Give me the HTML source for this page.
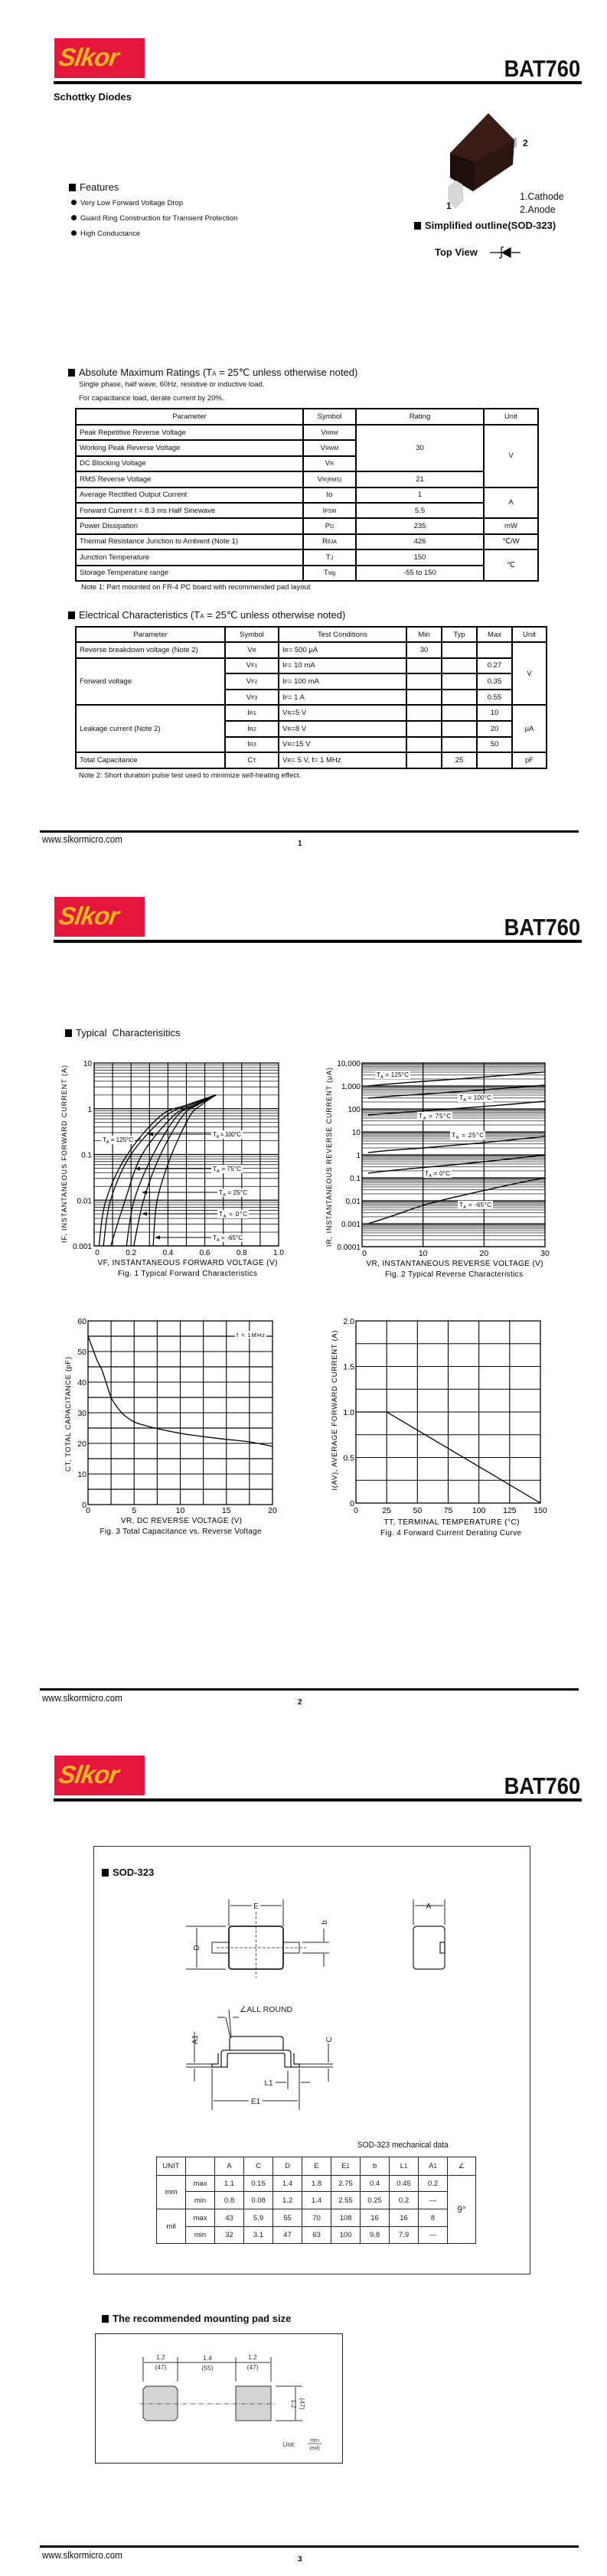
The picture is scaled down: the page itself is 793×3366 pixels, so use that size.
<!DOCTYPE html>
<html><head><meta charset="utf-8"><title>BAT760 Schottky Diodes</title>
<style>
html,body{margin:0;padding:0;background:#fff;}
body{width:793px;height:3366px;position:relative;overflow:hidden;font-family:"Liberation Sans",Arial,sans-serif;color:#111;}
.a{position:absolute;white-space:nowrap;}
.logo{position:absolute;left:71px;width:118px;height:52px;background:#e3173e;}
.logo span{position:absolute;left:6px;top:6px;font:italic bold 33px "Liberation Sans",sans-serif;color:#f2b51f;letter-spacing:-1px;transform:skewX(-8deg);}
.title{position:absolute;right:35px;font:bold 31px "Liberation Sans",sans-serif;transform:scaleX(.88);transform-origin:right center;}
.hline{position:absolute;left:70px;width:690px;height:4px;background:#000;}
.fline{position:absolute;left:52px;width:704px;height:3px;background:#000;}
.www{position:absolute;left:55px;font-size:12.5px;transform:scaleX(.92);transform-origin:left;}
.pn{position:absolute;left:389px;font-weight:bold;font-size:10px;}
.sq{display:inline-block;width:9px;height:10px;background:#000;margin-right:5px;vertical-align:-1px;}
.sec{font-size:13px;}
.bul{font-size:9.5px;}
.bul i{display:inline-block;width:7px;height:7px;border-radius:50%;background:#000;margin-right:5px;vertical-align:0;}
table.t{position:absolute;border-collapse:collapse;font-size:9.5px;table-layout:fixed;}
table.t td{border:2px solid #000;padding:0 4px;text-align:center;white-space:nowrap;overflow:hidden;}
table.t td.l{text-align:left;}
table.t small{font-size:7px;}
table.m{position:absolute;border-collapse:collapse;font-size:9.5px;table-layout:fixed;}
table.m td{border:1px solid #222;text-align:center;padding:0;color:#222;}
svg{position:absolute;left:0;top:0;}
</style></head>
<body>

<!-- ===== PAGE 1 ===== -->
<div class="logo" style="top:50px"><span>Slkor</span></div>
<div class="title" style="top:72px">BAT760</div>
<div class="hline" style="top:106px"></div>
<div class="a" style="left:70px;top:119px;font-weight:bold;font-size:13px">Schottky Diodes</div>

<div class="a sec" style="left:90px;top:237px"><span class="sq"></span>Features</div>
<div class="a bul" style="left:93px;top:260px"><i></i>Very Low Forward Voltage Drop</div>
<div class="a bul" style="left:93px;top:280px"><i></i>Guard Ring Construction for Transient Protection</div>
<div class="a bul" style="left:93px;top:300px"><i></i>High Conductance</div>

<div class="a" style="left:679px;top:250px;font-size:12.5px">1.Cathode</div>
<div class="a" style="left:679px;top:267px;font-size:12.5px">2.Anode</div>
<div class="a" style="left:541px;top:287px;font-weight:bold;font-size:13px"><span class="sq"></span>Simplified outline(SOD-323)</div>
<div class="a" style="left:568px;top:322px;font-weight:bold;font-size:13px">Top View</div>
<div class="a" style="left:583px;top:262px;font-weight:bold;font-size:12px">1</div>
<div class="a" style="left:683px;top:180px;font-weight:bold;font-size:12px">2</div>

<div class="a sec" style="left:89px;top:479px"><span class="sq"></span>Absolute Maximum Ratings (T<small style="font-size:8px">A</small> = 25℃ unless otherwise noted)</div>
<div class="a" style="left:103px;top:497px;font-size:9.5px">Single phase, half wave, 60Hz, resistive or inductive load.</div>
<div class="a" style="left:103px;top:515px;font-size:9.5px">For capacitance load, derate current by 20%.</div>

<table class="t" style="left:98px;top:533px;width:604px">
<colgroup><col style="width:297px"><col style="width:69px"><col style="width:167px"><col style="width:71px"></colgroup>
<tr style="height:21px"><td>Parameter</td><td>Symbol</td><td>Rating</td><td>Unit</td></tr>
<tr style="height:20.4px"><td class="l">Peak Repetitive Reverse Voltage</td><td>V<small>RRM</small></td><td rowspan="3">30</td><td rowspan="4">V</td></tr>
<tr style="height:20.4px"><td class="l">Working Peak Reverse Voltage</td><td>V<small>RWM</small></td></tr>
<tr style="height:20.4px"><td class="l">DC Blocking Voltage</td><td>V<small>R</small></td></tr>
<tr style="height:20.4px"><td class="l">RMS Reverse Voltage</td><td>V<small>R(RMS)</small></td><td>21</td></tr>
<tr style="height:20.4px"><td class="l">Average Rectified Output Current</td><td>Io</td><td>1</td><td rowspan="2">A</td></tr>
<tr style="height:20.4px"><td class="l">Forward Current t = 8.3 ms Half Sinewave</td><td>I<small>FSM</small></td><td>5.5</td></tr>
<tr style="height:20.4px"><td class="l">Power Dissipation</td><td>P<small>D</small></td><td>235</td><td>mW</td></tr>
<tr style="height:20.4px"><td class="l">Thermal Resistance Junction to Ambient (Note 1)</td><td>R<small>θJA</small></td><td>426</td><td>℃/W</td></tr>
<tr style="height:20.4px"><td class="l">Junction Temperature</td><td>T<small>J</small></td><td>150</td><td rowspan="2">℃</td></tr>
<tr style="height:20.4px"><td class="l">Storage Temperature range</td><td>T<small>stg</small></td><td>-55 to 150</td></tr>
</table>
<div class="a" style="left:106px;top:762px;font-size:9.5px">Note 1: Part mounted on FR-4 PC board with recommended pad layout</div>

<div class="a sec" style="left:89px;top:796px"><span class="sq"></span>Electrical Characteristics (T<small style="font-size:8px">A</small> = 25℃ unless otherwise noted)</div>
<table class="t" style="left:98px;top:818px;width:615px">
<colgroup><col style="width:195px"><col style="width:70px"><col style="width:167px"><col style="width:46px"><col style="width:46px"><col style="width:46px"><col style="width:45px"></colgroup>
<tr style="height:20px"><td>Parameter</td><td>Symbol</td><td>Test Conditions</td><td>Min</td><td>Typ</td><td>Max</td><td>Unit</td></tr>
<tr style="height:20.6px"><td class="l">Reverse breakdown voltage (Note 2)</td><td>V<small>R</small></td><td class="l">I<small>R</small>= 500 μA</td><td>30</td><td></td><td></td><td rowspan="4">V</td></tr>
<tr style="height:20.6px"><td class="l" rowspan="3">Forward voltage</td><td>V<small>F1</small></td><td class="l">I<small>F</small>= 10 mA</td><td></td><td></td><td>0.27</td></tr>
<tr style="height:20.6px"><td>V<small>F2</small></td><td class="l">I<small>F</small>= 100 mA</td><td></td><td></td><td>0.35</td></tr>
<tr style="height:20.6px"><td>V<small>F3</small></td><td class="l">I<small>F</small>= 1 A</td><td></td><td></td><td>0.55</td></tr>
<tr style="height:20.6px"><td class="l" rowspan="3">Leakage current (Note 2)</td><td>I<small>R1</small></td><td class="l">V<small>R</small>=5 V</td><td></td><td></td><td>10</td><td rowspan="3">μA</td></tr>
<tr style="height:20.6px"><td>I<small>R2</small></td><td class="l">V<small>R</small>=8 V</td><td></td><td></td><td>20</td></tr>
<tr style="height:20.6px"><td>I<small>R3</small></td><td class="l">V<small>R</small>=15 V</td><td></td><td></td><td>50</td></tr>
<tr style="height:20.6px"><td class="l">Total Capacitance</td><td>C<small>T</small></td><td class="l">V<small>R</small>= 5 V, f= 1 MHz</td><td></td><td>25</td><td></td><td>pF</td></tr>
</table>
<div class="a" style="left:103px;top:1008px;font-size:9.5px">Note 2: Short duration pulse test used to minimize self-heating effect.</div>

<div class="fline" style="top:1085px"></div>
<div class="www" style="top:1090px">www.slkormicro.com</div>
<div class="pn" style="top:1097px">1</div>

<!-- ===== PAGE 2 ===== -->
<div class="logo" style="top:1172px"><span>Slkor</span></div>
<div class="title" style="top:1194px">BAT760</div>
<div class="hline" style="top:1228px"></div>
<div class="a sec" style="left:85px;top:1342px"><span class="sq"></span>Typical &nbsp;Characterisitics</div>
<div class="fline" style="top:2206px"></div>
<div class="www" style="top:2212px">www.slkormicro.com</div>
<div class="pn" style="top:2219px">2</div>

<!-- ===== PAGE 3 ===== -->
<div class="logo" style="top:2294px"><span>Slkor</span></div>
<div class="title" style="top:2316px">BAT760</div>
<div class="hline" style="top:2350px"></div>
<div class="a" style="left:122px;top:2412px;width:569px;height:558px;border:1px solid #333"></div>
<div class="a" style="left:133px;top:2439px;font-weight:bold;font-size:13px"><span class="sq"></span>SOD-323</div>
<div class="a" style="left:467px;top:2797px;font-size:11px;transform:scaleX(.92);transform-origin:left">SOD-323 mechanical data</div>
<table class="m" style="left:204px;top:2818px;width:417px">
<colgroup><col style="width:38px"><col style="width:38px"><col style="width:38px"><col style="width:38px"><col style="width:38px"><col style="width:38px"><col style="width:38px"><col style="width:38px"><col style="width:38px"><col style="width:38px"><col style="width:37px"></colgroup>
<tr style="height:24px"><td>UNIT</td><td></td><td>A</td><td>C</td><td>D</td><td>E</td><td>E<small>1</small></td><td>b</td><td>L<small>1</small></td><td>A<small>1</small></td><td>∠</td></tr>
<tr style="height:21px"><td rowspan="2">mm</td><td>max</td><td>1.1</td><td>0.15</td><td>1.4</td><td>1.8</td><td>2.75</td><td>0.4</td><td>0.45</td><td>0.2</td><td rowspan="4" style="font-size:12px">9°</td></tr>
<tr style="height:23px"><td>min</td><td>0.8</td><td>0.08</td><td>1.2</td><td>1.4</td><td>2.55</td><td>0.25</td><td>0.2</td><td>—</td></tr>
<tr style="height:23px"><td rowspan="2">mil</td><td>max</td><td>43</td><td>5.9</td><td>55</td><td>70</td><td>108</td><td>16</td><td>16</td><td>8</td></tr>
<tr style="height:22px"><td>min</td><td>32</td><td>3.1</td><td>47</td><td>63</td><td>100</td><td>9.8</td><td>7.9</td><td>—</td></tr>
</table>
<div class="a" style="left:133px;top:3022px;font-weight:bold;font-size:13px"><span class="sq"></span>The recommended mounting pad size</div>
<div class="a" style="left:124px;top:3049px;width:322px;height:168px;border:1px solid #222"></div>
<div class="fline" style="top:3326px"></div>
<div class="www" style="top:3332px">www.slkormicro.com</div>
<div class="pn" style="top:3339px">3</div>

<svg id="art" width="793" height="3366" viewBox="0 0 793 3366" font-family="Liberation Sans, Arial, sans-serif">
 <!-- package image page 1 -->
 <g>
  <polygon points="670,181 675,179 675,192 670,194" fill="#bbb"/>
  <polygon points="588,200 638,148 672,183 670,215 618,250 588,232" fill="#2b1614"/>
  <polygon points="588,200 638,148 672,183 620,212" fill="#3a1c18"/>
  <polygon points="588,200 620,212 618,250 588,232" fill="#1e0e0c"/>
  <polygon points="586,244 596,236 604,241 605,262 595,272 586,262" fill="#d8d8d8" stroke="#aaa" stroke-width=".5"/>
 </g>
 <g stroke="#000" stroke-width="1.2" fill="none">
  <path d="M640,330 H655 M655,323 V337 M655,323 h3 M655,337 h-3 M668,330 H680"/>
  <polygon points="656,330 667,324 667,336" fill="#000"/>
 </g>

 <!-- page 2 chart groups -->
 <g id="fig1"></g>
 <g id="fig2"></g>
 <g id="fig3"></g>
 <g id="fig4"></g>

 <!-- page 3 package drawing -->
 <g stroke="#222" fill="none" stroke-width="1">
  <rect x="277" y="2538" width="22" height="14"/><rect x="370" y="2538" width="21" height="14"/>
  <rect x="299" y="2517" width="71" height="56" rx="4" stroke-width="1.8"/>
  <path d="M334.5,2498 V2584 M283,2545 H400" stroke-dasharray="4,2" stroke-width=".7"/>
  <path d="M299,2482 V2517 M370,2482 V2517 M301,2490 H368 M243,2517 H295 M243,2573 H295 M257,2519 V2571 M395,2538 H430 M395,2552 H430 M423,2520 V2537 M423,2553 V2570"/>
 </g>
 <g stroke="#222" fill="none" stroke-width="1.2">
  <path d="M545,2517 H576 Q581,2517 581,2522 V2568 Q581,2573 576,2573 H545 Q540,2573 540,2568 V2522 Q540,2517 545,2517 Z"/>
  <rect x="575" y="2538" width="6" height="14"/>
  <path d="M540,2482 V2515 M581,2482 V2515 M542,2490 H579" stroke-width="1"/>
 </g>
 <g stroke="#222" fill="none" stroke-width="1.3">
  <path d="M300,2679 V2665 Q300,2661 304,2661 H366 Q370,2661 370,2665 V2679"/>
  <path d="M289,2701 V2683 Q289,2679 293,2679 H376 Q380,2679 380,2683 V2701"/>
  <path d="M277,2701 H297 V2685 Q297,2683 299,2683 H370 Q372,2683 372,2685 V2701 H391 V2697 H384 V2683 M277,2701 V2697 H285 V2683"/>
  <path d="M243,2697 H277 M243,2701 H277 M254,2655 V2695 M254,2703 V2720 M391,2697 H435 M391,2701 H435 M429,2670 V2695 M429,2703 V2720 M376,2706 V2730 M391,2706 V2730 M360,2721 H374 M393,2721 H405 M277,2703 V2757 M391,2703 V2757 M279,2745 H325 M343,2745 H389 M295,2636 L301,2663 M299,2626 L302,2662 M284,2636 H294 M304,2636 H312" stroke-width="1"/>
 </g>
 <g font-size="10" fill="#222">
  <text x="334.5" y="2494" text-anchor="middle" fill="#fff" stroke="#fff" stroke-width="6">E</text>
  <text x="334.5" y="2494" text-anchor="middle">E</text>
  <text x="560" y="2494" text-anchor="middle">A</text>
  <text x="260" y="2545" transform="rotate(-90 260 2545)" text-anchor="middle">D</text>
  <text x="427" y="2512" transform="rotate(-90 427 2512)" text-anchor="middle">b</text>
  <text x="313" y="2629" font-size="10.5">∠ALL ROUND</text>
  <text x="258" y="2665" transform="rotate(-90 258 2665)" text-anchor="middle">A1</text>
  <text x="433" y="2665" transform="rotate(-90 433 2665)" text-anchor="middle">C</text>
  <text x="351" y="2725" text-anchor="middle">L1</text>
  <text x="334" y="2749" text-anchor="middle">E1</text>
 </g>
 <!-- pad drawing -->
 <g stroke="#333" stroke-width="1" fill="none">
  <polygon points="191,3118 228,3118 232,3122 232,3159 228,3163 191,3163 187,3159 187,3122" fill="#d4d4d4"/>
  <rect x="308" y="3118" width="46" height="45" fill="#d4d4d4"/>
  <path d="M183,3141 H360" stroke-dasharray="6,2,1,2" stroke-width=".8"/>
  <path d="M187,3080 V3112 M232,3080 V3112 M308,3080 V3112 M354,3080 V3112 M188,3087 H353 M360,3118 H395 M360,3163 H395 M386,3119 V3162"/>
 </g>
 <g font-size="8.5" fill="#333" text-anchor="middle">
  <text x="210" y="3083">1.2</text><text x="210" y="3096">(47)</text>
  <text x="271" y="3084">1.4</text><text x="271" y="3097">(55)</text>
  <text x="330" y="3083">1.2</text><text x="330" y="3096">(47)</text>
  <text x="381" y="3141" transform="rotate(90 381 3141)">1.2</text>
  <text x="392" y="3141" transform="rotate(90 392 3141)">(47)</text>
  <text x="386" y="3197" text-anchor="end" font-size="8">Unit:</text>
  <text x="411" y="3191" font-size="7">mm</text>
  <path d="M402,3193 H420" stroke="#333" stroke-width=".7"/>
  <text x="411" y="3201" font-size="7">(mil)</text>
 </g>
</svg>

<script>
// ---------- Fig 1 data: forward characteristics ----------
const fig1Temps = ['125', '100', '75', '25', '0', '-65'];
const fig1Vf125 = [0.026, 0.064, 0.18, 0.36, 0.50, 0.66];
const fig1Vf100 = [0.05, 0.089, 0.20, 0.39, 0.52, 0.66];
const fig1Vf75 = [0.09, 0.168, 0.26, 0.43, 0.54, 0.66];
const fig1Vf25 = [0.175, 0.217, 0.32, 0.45, 0.55, 0.66];
const fig1Vf0 = [0.215, 0.268, 0.36, 0.48, 0.56, 0.66];
const fig1VfM65 = [0.32, 0.342, 0.42, 0.52, 0.58, 0.66];
const fig1If = [0.001, 0.01, 0.1, 0.7, 1.2, 2.0];
const fig1XTicks = [0, 0.2, 0.4, 0.6, 0.8, 1.0];
const fig1XTickLabels = ['0', '0.2', '0.4', '0.6', '0.8', '1.0'];
const fig1YTicks = [0.001, 0.01, 0.1, 1, 10];
const fig1YTickLabels = ['0.001', '0.01', '0.1', '1', '10'];

// ---------- Fig 2 data: reverse characteristics ----------
const fig2Vr = [1, 5, 10, 15, 20, 25, 30];
const fig2Ir125 = [1000, 1250, 1580, 1950, 2450, 3150, 4070];
const fig2Ir100 = [295, 360, 440, 540, 680, 860, 1080];
const fig2Ir75 = [55, 66, 82, 102, 128, 165, 215];
const fig2Ir25 = [1.26, 1.6, 2.0, 2.6, 3.4, 4.6, 6.3];
const fig2Ir0 = [0.16, 0.21, 0.28, 0.37, 0.5, 0.7, 1.0];
const fig2IrM65 = [0.001, 0.0022, 0.0063, 0.014, 0.028, 0.055, 0.1];
const fig2XTicks = [0, 10, 20, 30];
const fig2YTicks = [10000, 1000, 100, 10, 1, 0.1, 0.01, 0.001, 0.0001];
const fig2YTickLabels = ['10,000', '1,000', '100', '10', '1', '0.1', '0.01', '0.001', '0.0001'];

// ---------- Fig 3 data: capacitance ----------
const fig3Vr = [0, 0.5, 1, 1.5, 2, 2.5, 3, 3.5, 4, 5, 6, 7.5, 10, 12.5, 15, 17.5, 20];
const fig3Ct = [55, 51, 47, 44, 39.5, 35, 32.5, 30.5, 29, 27, 26, 24.8, 23.3, 22.2, 21.3, 20.5, 19];
const fig3XTicks = [0, 5, 10, 15, 20];
const fig3YTicks = [0, 10, 20, 30, 40, 50, 60];

// ---------- Fig 4 data: derating ----------
const fig4Temp = [0, 25, 150];
const fig4Iav = [1.0, 1.0, 0];
const fig4XTicks = [0, 25, 50, 75, 100, 125, 150];
const fig4YTicks = [0, 0.5, 1.0, 1.5, 2.0];
const fig4YTickLabels = ['0', '0.5', '1.0', '1.5', '2.0'];

const NS = 'http://www.w3.org/2000/svg';
function mk(parent, tag, attrs, name, text) {
  const el = document.createElementNS(NS, tag);
  for (const k in attrs) el.setAttribute(k, attrs[k]);
  
  
  if (text !== undefined) el.textContent = text;
  parent.appendChild(el);
  return el;
}
function smooth(pts) {
  if (pts.length < 3) return 'M' + pts.map(p => p[0].toFixed(1) + ',' + p[1].toFixed(1)).join(' L');
  let d = 'M' + pts[0][0].toFixed(1) + ',' + pts[0][1].toFixed(1);
  for (let i = 0; i < pts.length - 1; i++) {
    const p0 = pts[i - 1] || pts[i], p1 = pts[i], p2 = pts[i + 1], p3 = pts[i + 2] || p2;
    const c1x = p1[0] + (p2[0] - p0[0]) / 6, c1y = p1[1] + (p2[1] - p0[1]) / 6;
    const c2x = p2[0] - (p3[0] - p1[0]) / 6, c2y = p2[1] - (p3[1] - p1[1]) / 6;
    d += ' C' + c1x.toFixed(1) + ',' + c1y.toFixed(1) + ' ' + c2x.toFixed(1) + ',' + c2y.toFixed(1) + ' ' + p2[0].toFixed(1) + ',' + p2[1].toFixed(1);
  }
  return d;
}
function tlabel(g, x, y, txt, name, w) {
  mk(g, 'rect', {x: x - 2, y: y - 8, width: w + 4, height: 11, fill: '#fff'}, name + '-bg');
  const t = mk(g, 'text', {x: x, y: y, 'font-size': 8}, name, '');
  const a = document.createElementNS(NS, 'tspan'); a.textContent = 'T'; t.appendChild(a);
  const b = document.createElementNS(NS, 'tspan'); b.setAttribute('font-size', '5.5'); b.setAttribute('dy', '2'); b.textContent = 'A'; t.appendChild(b);
  const c = document.createElementNS(NS, 'tspan'); c.setAttribute('dy', '-2'); c.textContent = ' = ' + txt + '°C'; t.appendChild(c);
  t.setAttribute('textLength', w);
}
function arrow(g, x1, y, x2, name) {
  mk(g, 'line', {x1: x1, y1: y, x2: x2 + 5, y2: y, stroke: '#000', 'stroke-width': 1}, name);
  mk(g, 'polygon', {points: x2 + ',' + y + ' ' + (x2 + 7) + ',' + (y - 2.5) + ' ' + (x2 + 7) + ',' + (y + 2.5), fill: '#000'}, name + '-head');
}

// ===== Fig 1 =====
(function () {
  const g = document.getElementById('fig1');
  const L = 123, R = 364, T = 1389, B = 1628;
  const x = v => L + (R - L) * v / 1.0;
  const y = i => B - (Math.log10(i) + 3) * (B - T) / 4;
  for (let d = -3; d < 1; d++) for (let m = 1; m < 10; m++) {
    const yy = y(m * Math.pow(10, d));
    mk(g, 'line', {x1: L, x2: R, y1: yy, y2: yy, stroke: m === 1 ? '#000' : '#333', 'stroke-width': m === 1 ? 1.2 : 0.9}, 'fig1-hgrid');
  }
  for (let k = 1; k < 10; k++) mk(g, 'line', {x1: x(k / 10), x2: x(k / 10), y1: T, y2: B, stroke: '#000', 'stroke-width': 1.1}, 'fig1-vgrid');
  mk(g, 'rect', {x: L, y: T, width: R - L, height: B - T, fill: 'none', stroke: '#000', 'stroke-width': 1.3}, 'fig1-frame');
  fig1XTicks.forEach((v, i) => mk(g, 'text', {x: x(v) + (i === 0 ? 4 : 0), y: 1640, 'font-size': 10, 'text-anchor': 'middle'}, 'fig1-x-tick', fig1XTickLabels[i]));
  fig1YTicks.forEach((v, i) => mk(g, 'text', {x: L - 3, y: y(v) + 4, 'font-size': 10, 'text-anchor': 'end'}, 'fig1-y-tick', fig1YTickLabels[i]));
  const series = [fig1Vf125, fig1Vf100, fig1Vf75, fig1Vf25, fig1Vf0, fig1VfM65];
  series.forEach((vs, si) => {
    const pts = vs.map((v, k) => [x(v), y(fig1If[k])]);
    mk(g, 'path', {d: smooth(pts), fill: 'none', stroke: '#000', 'stroke-width': 1.3}, 'fig1-curve-' + fig1Temps[si]);
  });
  tlabel(g, 134, 1492, fig1Temps[0], 'fig1-label-125', 40);
  mk(g, 'line', {x1: 176, y1: 1491, x2: 184, y2: 1488, stroke: '#000'}, 'fig1-leader-125');
  const lab = [[1, 278, 1485, 193], [2, 278, 1530, 176], [3, 286, 1561, 185], [4, 286, 1589, 185], [5, 278, 1620, 202]];
  lab.forEach(a => { arrow(g, a[1] - 2, a[2] - 3, a[3], 'fig1-arrow-' + fig1Temps[a[0]]); tlabel(g, a[1], a[2], fig1Temps[a[0]], 'fig1-label-' + fig1Temps[a[0]], a[0] === 5 ? 39 : 37); });
  mk(g, 'text', {x: 87, y: 1508, 'font-size': 9, 'text-anchor': 'middle', transform: 'rotate(-90 87 1508)', textLength: 232}, 'fig1-y-axis-title', 'IF, INSTANTANEOUS FORWARD CURRENT (A)');
  mk(g, 'text', {x: 245, y: 1653, 'font-size': 10, 'text-anchor': 'middle', textLength: 235}, 'fig1-x-axis-title', 'VF, INSTANTANEOUS FORWARD VOLTAGE (V)');
  mk(g, 'text', {x: 245, y: 1667, 'font-size': 10, 'text-anchor': 'middle', textLength: 182}, 'fig1-caption', 'Fig. 1  Typical Forward Characteristics');
})();

// ===== Fig 2 =====
(function () {
  const g = document.getElementById('fig2');
  const L = 473, R = 712, T = 1389, B = 1629;
  const x = v => L + (R - L) * v / 30;
  const y = i => B - (Math.log10(i) + 4) * (B - T) / 8;
  for (let d = -4; d < 4; d++) for (let m = 1; m < 10; m++) {
    const yy = y(m * Math.pow(10, d));
    mk(g, 'line', {x1: L, x2: R, y1: yy, y2: yy, stroke: m === 1 ? '#000' : '#444', 'stroke-width': m === 1 ? 1.3 : 0.9}, 'fig2-hgrid');
  }
  [10, 20].forEach(v => mk(g, 'line', {x1: x(v), x2: x(v), y1: T, y2: B, stroke: '#000', 'stroke-width': 1.2}, 'fig2-vgrid'));
  mk(g, 'rect', {x: L, y: T, width: R - L, height: B - T, fill: 'none', stroke: '#000', 'stroke-width': 1.3}, 'fig2-frame');
  fig2XTicks.forEach(v => mk(g, 'text', {x: x(v) + (v === 0 ? 3 : 0), y: 1641, 'font-size': 10.5, 'text-anchor': 'middle'}, 'fig2-x-tick', String(v)));
  fig2YTicks.forEach((v, i) => mk(g, 'text', {x: L - 2, y: y(v) + 4, 'font-size': 10, 'text-anchor': 'end'}, 'fig2-y-tick', fig2YTickLabels[i]));
  const temps = ['125', '100', '75', '25', '0', '-65'];
  [fig2Ir125, fig2Ir100, fig2Ir75, fig2Ir25, fig2Ir0, fig2IrM65].forEach((s, si) => {
    const pts = s.map((v, k) => [x(fig2Vr[k]), y(v)]);
    mk(g, 'path', {d: smooth(pts), fill: 'none', stroke: '#000', 'stroke-width': 1.4}, 'fig2-curve-' + temps[si]);
  });
  [[0, 492, 1407], [1, 600, 1437], [2, 547, 1461], [3, 590, 1486], [4, 555, 1536], [5, 600, 1577]].forEach(a =>
    tlabel(g, a[1], a[2], temps[a[0]], 'fig2-label-' + temps[a[0]], a[0] === 4 ? 33 : 42));
  mk(g, 'text', {x: 433, y: 1512, 'font-size': 9, 'text-anchor': 'middle', transform: 'rotate(-90 433 1512)', textLength: 234}, 'fig2-y-axis-title', 'IR, INSTANTANEOUS REVERSE CURRENT (μA)');
  mk(g, 'text', {x: 594, y: 1654, 'font-size': 10, 'text-anchor': 'middle', textLength: 231}, 'fig2-x-axis-title', 'VR, INSTANTANEOUS REVERSE VOLTAGE (V)');
  mk(g, 'text', {x: 593, y: 1668, 'font-size': 10, 'text-anchor': 'middle', textLength: 180}, 'fig2-caption', 'Fig. 2 Typical Reverse Characteristics');
})();

// ===== Fig 3 =====
(function () {
  const g = document.getElementById('fig3');
  const L = 115, R = 356, T = 1726, B = 1966;
  const x = v => L + (R - L) * v / 20;
  const y = c => B - (B - T) * c / 60;
  for (let c = 5; c < 60; c += 5) mk(g, 'line', {x1: L, x2: R, y1: y(c), y2: y(c), stroke: '#000', 'stroke-width': c % 10 ? 1.3 : 1.1}, 'fig3-hgrid');
  for (let v = 2.5; v < 20; v += 2.5) mk(g, 'line', {x1: x(v), x2: x(v), y1: T, y2: B, stroke: '#000', 'stroke-width': 1.1}, 'fig3-vgrid');
  mk(g, 'rect', {x: L, y: T, width: R - L, height: B - T, fill: 'none', stroke: '#000', 'stroke-width': 1.3}, 'fig3-frame');
  fig3XTicks.forEach(v => mk(g, 'text', {x: x(v), y: 1977, 'font-size': 10.5, 'text-anchor': 'middle'}, 'fig3-x-tick', String(v)));
  fig3YTicks.forEach(v => mk(g, 'text', {x: L - 2, y: y(v) + 4, 'font-size': 10.5, 'text-anchor': 'end'}, 'fig3-y-tick', String(v)));
  const pts = fig3Vr.map((v, k) => [x(v), y(fig3Ct[k])]);
  mk(g, 'path', {d: smooth(pts), fill: 'none', stroke: '#000', 'stroke-width': 1.3}, 'fig3-capacitance-curve');
  mk(g, 'rect', {x: 307, y: 1739, width: 41, height: 10, fill: '#fff'}, 'fig3-note-bg');
  mk(g, 'text', {x: 309, y: 1747, 'font-size': 7.5, textLength: 37}, 'fig3-frequency-note', 'f = 1MHz');
  mk(g, 'text', {x: 92, y: 1848, 'font-size': 9.5, 'text-anchor': 'middle', transform: 'rotate(-90 92 1848)', textLength: 150}, 'fig3-y-axis-title', 'CT, TOTAL CAPACITANCE (pF)');
  mk(g, 'text', {x: 237, y: 1990, 'font-size': 10, 'text-anchor': 'middle', textLength: 158}, 'fig3-x-axis-title', 'VR, DC REVERSE VOLTAGE (V)');
  mk(g, 'text', {x: 236, y: 2004, 'font-size': 10, 'text-anchor': 'middle', textLength: 211}, 'fig3-caption', 'Fig. 3 Total Capacitance vs. Reverse Voltage');
})();

// ===== Fig 4 =====
(function () {
  const g = document.getElementById('fig4');
  const L = 465, R = 706, T = 1726, B = 1964;
  const x = t => L + (R - L) * t / 150;
  const y = a => B - (B - T) * a / 2;
  for (let a = 0.25; a < 2; a += 0.25) mk(g, 'line', {x1: L, x2: R, y1: y(a), y2: y(a), stroke: '#000', 'stroke-width': 1.1}, 'fig4-hgrid');
  for (let t = 25; t < 150; t += 25) mk(g, 'line', {x1: x(t), x2: x(t), y1: T, y2: B, stroke: '#000', 'stroke-width': 1.1}, 'fig4-vgrid');
  mk(g, 'rect', {x: L, y: T, width: R - L, height: B - T, fill: 'none', stroke: '#000', 'stroke-width': 1.3}, 'fig4-frame');
  fig4XTicks.forEach(v => mk(g, 'text', {x: x(v), y: 1977, 'font-size': 10.5, 'text-anchor': 'middle'}, 'fig4-x-tick', String(v)));
  fig4YTicks.forEach((v, i) => mk(g, 'text', {x: L - 2, y: y(v) + 4, 'font-size': 10.5, 'text-anchor': 'end'}, 'fig4-y-tick', fig4YTickLabels[i]));
  const pts = fig4Temp.map((t, k) => x(t).toFixed(1) + ',' + y(fig4Iav[k]).toFixed(1));
  mk(g, 'polyline', {points: pts.join(' '), fill: 'none', stroke: '#000', 'stroke-width': 1.3}, 'fig4-derating-line');
  mk(g, 'text', {x: 440, y: 1843, 'font-size': 9.5, 'text-anchor': 'middle', transform: 'rotate(-90 440 1843)', textLength: 209}, 'fig4-y-axis-title', 'I(AV), AVERAGE FORWARD CURRENT (A)');
  mk(g, 'text', {x: 590, y: 1992, 'font-size': 10, 'text-anchor': 'middle', textLength: 177}, 'fig4-x-axis-title', 'TT, TERMINAL TEMPERATURE (°C)');
  mk(g, 'text', {x: 589, y: 2006, 'font-size': 10, 'text-anchor': 'middle', textLength: 184}, 'fig4-caption', 'Fig. 4  Forward Current Derating Curve');
})();
</script>
</body></html>
